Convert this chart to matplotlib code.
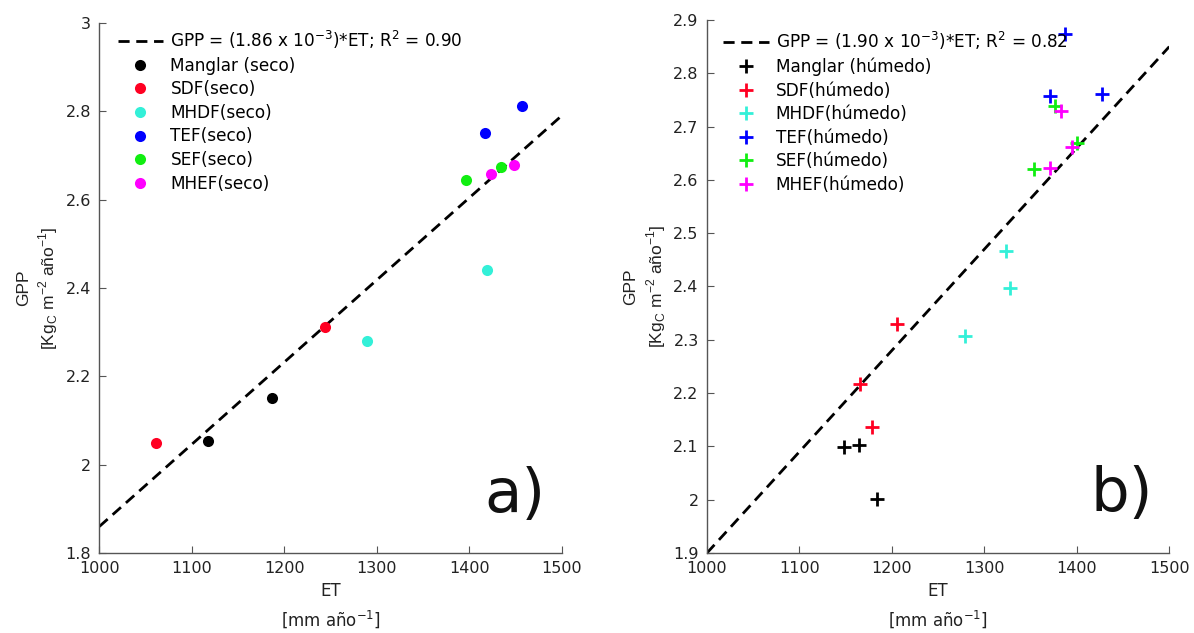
import numpy as np
import matplotlib
matplotlib.use('Agg')
import matplotlib.pyplot as plt
from matplotlib.ticker import FormatStrFormatter

# -------------------- Datos --------------------
grupos = ['Manglar', 'SDF', 'MHDF', 'TEF', 'SEF', 'MHEF']
colores = ['#000000', '#ff0022', '#33f0d8', '#0000ff', '#11ee11', '#ff00ff']

# a) epoca seca: ET [mm/ano], GPP [KgC m-2 ano-1]
et_seco = [[1118, 1187], [1061, 1244], [1290, 1419], [1417, 1457], [1397, 1434], [1424, 1448]]
gpp_seco = [[2.054, 2.150], [2.050, 2.312], [2.280, 2.441], [2.752, 2.812], [2.645, 2.675], [2.658, 2.679]]
pend_seco = 1.86e-3

# b) epoca humeda
et_hum = [[1148, 1164, 1184], [1205, 1165, 1179], [1279, 1323, 1328],
          [1387, 1371, 1427], [1376, 1400, 1354], [1383, 1395, 1371]]
gpp_hum = [[2.099, 2.102, 2.001], [2.329, 2.217, 2.137], [2.308, 2.467, 2.398],
           [2.874, 2.757, 2.762], [2.739, 2.670, 2.620], [2.730, 2.661, 2.622]]
pend_hum = 1.90e-3

et_rango = [1000, 1500]

plt.rcParams['font.family'] = 'DejaVu Sans'
plt.rcParams['font.size'] = 11

fig = plt.figure(figsize=(11.94, 6.33), dpi=100)
axA = fig.add_axes([0.0832, 0.1264, 0.3872, 0.8373])
axB = fig.add_axes([0.5921, 0.1264, 0.3872, 0.8420])


# Funcion que da formato a cada panel
def formato(ax, ylim, ystep, letra, ancla):
    ax.set_xlim(et_rango)
    ax.set_ylim(ylim)
    ax.set_xticks(np.arange(1000, 1501, 100))
    ax.set_yticks(np.arange(ylim[0], ylim[1] + 1e-9, ystep))
    ax.yaxis.set_major_formatter(FormatStrFormatter('%g'))
    for s in ['top', 'right']:
        ax.spines[s].set_visible(False)
    for s in ['left', 'bottom']:
        ax.spines[s].set_color('#555555')
        ax.spines[s].set_linewidth(1.0)
    ax.tick_params(direction='in', length=5, color='#555555', labelsize=11.5,
                   labelcolor='#222222', pad=6)
    ax.set_xlabel('ET\n[mm año$^{\\mathregular{-1}}$]', fontsize=12, labelpad=4,
                  color='#222222', linespacing=1.5)
    ax.set_ylabel('GPP\n[Kg$_{\\mathregular{C}}$ m$^{\\mathregular{-2}}$ año$^{\\mathregular{-1}}$]',
                  fontsize=12.5, family='Liberation Sans', labelpad=4, color='#222222',
                  linespacing=1.3)
    ax.text(0.965, 0.078, letra, transform=ax.transAxes, ha='right', va='baseline',
            fontsize=44, color='#111111')
    ax.legend(loc='upper left', bbox_to_anchor=ancla, frameon=False, fontsize=12.2,
              handlelength=2.7, handletextpad=0.42, labelspacing=0.33,
              borderaxespad=0, borderpad=0.2)


# Panel a)
xs = np.array(et_rango)
axA.plot(xs, pend_seco * xs, color='k', lw=2, dashes=(4, 2.4),
         label='GPP = (1.86 x 10$^{\\mathregular{-3}}$)*ET; R$^{\\mathregular{2}}$ = 0.90')
for i, g in enumerate(grupos):
    etiqueta = g + (' (seco)' if g == 'Manglar' else '(seco)')
    axA.plot(et_seco[i], gpp_seco[i], 'o', color=colores[i], ms=8, mec='none', label=etiqueta)
formato(axA, (1.8, 3.0), 0.2, 'a)', (0.032, 0.995))

# Panel b)
axB.plot(xs, pend_hum * xs, color='k', lw=2, dashes=(4, 2.4),
         label='GPP = (1.90 x 10$^{\\mathregular{-3}}$)*ET; R$^{\\mathregular{2}}$ = 0.82')
for i, g in enumerate(grupos):
    etiqueta = g + (' (húmedo)' if g == 'Manglar' else '(húmedo)')
    axB.plot(et_hum[i], gpp_hum[i], '+', color=colores[i], ms=10, mew=2, label=etiqueta)
formato(axB, (1.9, 2.9), 0.1, 'b)', (0.027, 0.988))

fig.savefig('out.png', dpi=100)
